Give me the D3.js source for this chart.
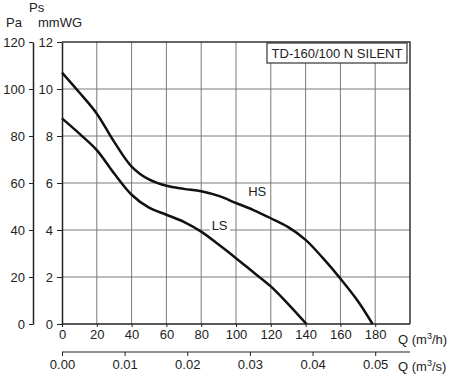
<!DOCTYPE html>
<html>
<head>
<meta charset="utf-8">
<script src="https://cdn.jsdelivr.net/npm/d3@7/dist/d3.min.js"></script>
<style>
  body { margin: 0; background: #fff; }
  text { font-family: "Liberation Sans", Arial, sans-serif; fill: #222; }
</style>
</head>
<body>
<div id="chart"></div>
<script>
// airflow Q (m3/h) vs static pressure Ps (mmWG)
const hsQ = [0, 10, 20, 30, 40, 50, 60, 70, 80, 90, 100, 110, 120, 130, 140, 150, 160, 170, 178.5];
const hsP = [10.7, 9.85, 8.95, 7.75, 6.7, 6.15, 5.88, 5.75, 5.65, 5.45, 5.15, 4.85, 4.5, 4.12, 3.58, 2.8, 1.93, 0.98, 0];
const lsQ = [0, 10, 20, 30, 40, 50, 60, 70, 80, 90, 100, 110, 120, 130, 140.5];
const lsP = [8.75, 8.1, 7.4, 6.4, 5.5, 4.95, 4.65, 4.35, 3.93, 3.38, 2.8, 2.2, 1.6, 0.85, 0];

const qTicks = [0, 20, 40, 60, 80, 100, 120, 140, 160, 180];
const qsTicks = [0, 0.01, 0.02, 0.03, 0.04, 0.05];
const mmTicks = [0, 2, 4, 6, 8, 10, 12];
const paTicks = [0, 20, 40, 60, 80, 100, 120];
const modelName = "TD-160/100 N SILENT";

const W = 450, H = 376;
const svg = d3.select("#chart").append("svg")
  .attr("width", W).attr("height", H);

const x = d3.scaleLinear().domain([0, 200]).range([62, 410]);
const xs = d3.scaleLinear().domain([0, 200 / 3600]).range([62, 410]);
const y = d3.scaleLinear().domain([0, 12]).range([324, 42]);
const yPa = d3.scaleLinear().domain([0, 120]).range([324, 42]);

// grid
const grid = svg.append("g").attr("stroke", "#7a7a7a").attr("stroke-width", 1);
qTicks.slice(1).forEach(q => {
  grid.append("line").attr("x1", x(q)).attr("x2", x(q)).attr("y1", y(12)).attr("y2", y(0));
});
mmTicks.slice(1, -1).forEach(p => {
  grid.append("line").attr("x1", x(0)).attr("x2", x(200)).attr("y1", y(p)).attr("y2", y(p));
});

// frame top/right
svg.append("path")
  .attr("d", `M${x(0)},${y(12)}H${x(200)}V${y(0)}`)
  .attr("fill", "none").attr("stroke", "#333").attr("stroke-width", 1.5);

// Q (m3/h) axis
const axQ = svg.append("g")
  .attr("transform", `translate(0,${y(0)})`)
  .call(d3.axisBottom(x).tickValues(qTicks).tickSize(3).tickSizeOuter(0).tickPadding(3));
axQ.select(".domain").attr("d", `M${x(0)},0H${x(200)}`).attr("stroke", "#222").attr("stroke-width", 1.5);

// Q (m3/s) axis
const axQs = svg.append("g")
  .attr("transform", "translate(0,352)")
  .call(d3.axisBottom(xs).tickValues(qsTicks).tickFormat(d3.format(".2f")).tickSize(4).tickSizeOuter(0).tickPadding(4));
axQs.select(".domain").attr("d", `M${x(0)},0H${x(200)}`).attr("stroke", "#222").attr("stroke-width", 1.2);

// mmWG axis
const axMm = svg.append("g")
  .attr("transform", `translate(${x(0)},0)`)
  .call(d3.axisLeft(y).tickValues(mmTicks).tickSize(5).tickSizeOuter(0).tickPadding(4));
axMm.select(".domain").attr("stroke", "#222").attr("stroke-width", 1.5);

// Pa axis
const axPa = svg.append("g")
  .attr("transform", "translate(33,0)")
  .call(d3.axisLeft(yPa).tickValues(paTicks).tickSize(4).tickSizeOuter(0).tickPadding(4));
axPa.select(".domain").attr("stroke", "#222").attr("stroke-width", 1.5);

svg.selectAll(".tick text").attr("font-size", 13)
  .attr("font-family", "Liberation Sans, Arial, sans-serif").attr("fill", "#222");
svg.selectAll(".tick line").attr("stroke", "#222");

// curves
const line = d3.line().curve(d3.curveCatmullRom.alpha(0.5))
  .x(d => x(d[0])).y(d => y(d[1]));

svg.append("path")
  .datum(hsQ.map((q, i) => [q, hsP[i]]))
  .attr("d", line).attr("fill", "none").attr("stroke", "#111").attr("stroke-width", 2.5);
svg.append("path")
  .datum(lsQ.map((q, i) => [q, lsP[i]]))
  .attr("d", line).attr("fill", "none").attr("stroke", "#111").attr("stroke-width", 2.5);

// curve labels
svg.append("text").attr("x", x(107)).attr("y", y(5.45)).attr("font-size", 13).text("HS");
svg.append("rect").attr("x", x(85)).attr("y", y(4) - 3).attr("width", 20).attr("height", 6).attr("fill", "#fff");
svg.append("text").attr("x", x(86)).attr("y", y(4)).attr("font-size", 13).text("LS");

// model box
svg.append("rect").attr("x", 267).attr("y", 43).attr("width", 140).attr("height", 20)
  .attr("fill", "#fff").attr("stroke", "#333").attr("stroke-width", 1.2);
svg.append("text").attr("x", 337).attr("y", 58).attr("text-anchor", "middle")
  .attr("font-size", 13).text(modelName);

// axis titles
svg.append("text").attr("x", 6).attr("y", 27).attr("font-size", 13).text("Pa");
svg.append("text").attr("x", 29).attr("y", 12).attr("font-size", 13).text("Ps");
svg.append("text").attr("x", 38).attr("y", 27).attr("font-size", 13).text("mmWG");

function qLabel(yy, unit) {
  const t = svg.append("text").attr("x", 398).attr("y", yy).attr("font-size", 13);
  t.append("tspan").text("Q (m");
  t.append("tspan").attr("dy", -5).attr("font-size", 9).text("3");
  t.append("tspan").attr("dy", 5).text("/" + unit + ")");
}
qLabel(344, "h");
qLabel(371, "s");
</script>
</body>
</html>
